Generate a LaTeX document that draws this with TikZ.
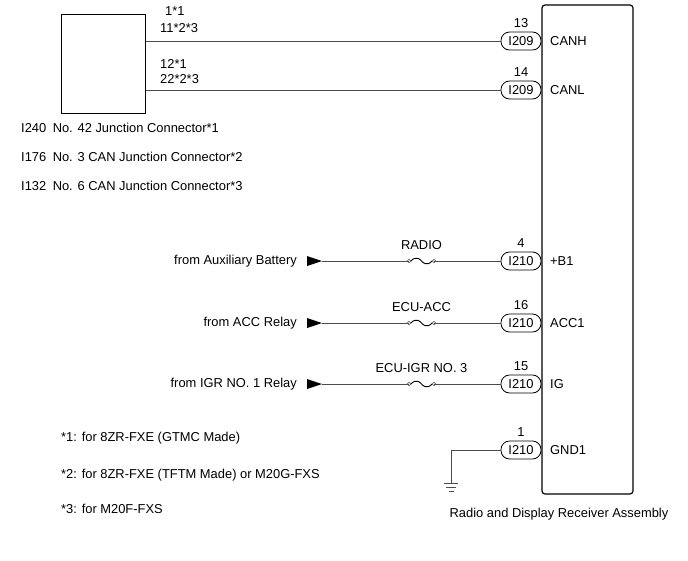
\documentclass[tikz,border=0pt]{standalone}
\usepackage{fontspec}
\setmainfont{Liberation Sans}
\usetikzlibrary{arrows.meta}
\begin{document}
\begin{tikzpicture}[x=1pt,y=-1pt,font=\fontsize{12.9}{15}\selectfont,
  conn/.style={draw,line width=0.8pt,rounded corners=8.5pt,minimum width=40pt,minimum height=18pt,inner sep=0pt,fill=white},
  wire/.style={draw=black!70,line width=0.6pt},
  lbl/.style={inner sep=1pt}]
\useasboundingbox (0,0) rectangle (688,560);
\draw[line width=1.2pt,rounded corners=3pt] (542,5) rectangle (633,494);
\node[draw,line width=1pt,minimum width=84pt,minimum height=99pt,inner sep=0pt] (jb) at (103,63.5) {};
\node[anchor=north] at (559,505) {Radio and Display Receiver Assembly};
\foreach \n/\y/\pin/\c/\sig in {a/41/13/I209/CANH, b/90/14/I209/CANL, c/261/4/I210/+B1, d/323/16/I210/ACC1, e/384/15/I210/IG, f/450/1/I210/GND1}{
  \node[conn] (o\n) at (521,\y) {\c};
  \node[lbl] at (521,\y-18) {\pin};
  \node[lbl,anchor=west] at (549,\y) {\sig};
}
\draw[wire] (jb.east |- oa) -- (oa.west);
\draw[wire] (jb.east |- ob) -- (ob.west);
\node[lbl,anchor=west] at (164,11) {1*1};
\node[lbl,anchor=west] at (159,28) {11*2*3};
\node[lbl,anchor=west] at (159,64) {12*1};
\node[lbl,anchor=west] at (159,79) {22*2*3};
\node[lbl,anchor=west] at (20,128) {I240\enspace No. 42 Junction Connector*1};
\node[lbl,anchor=west] at (20,157) {I176\enspace No. 3 CAN Junction Connector*2};
\node[lbl,anchor=west] at (20,186) {I132\enspace No. 6 CAN Junction Connector*3};
\foreach \n/\y/\txt/\fuse in {c/261/from Auxiliary Battery/RADIO, d/323/from ACC Relay/ECU-ACC, e/384/from IGR NO. 1 Relay/ECU-IGR NO. 3}{
  \coordinate (s\n) at (307,\y);
  \node[lbl,anchor=east] at (298,\y) {\txt};
  \fill (s\n) ++(0,-5) -- ++(15,5) -- ++(-15,5) -- cycle;
  \draw[wire] (322,\y) -- (409,\y);
  \draw[wire] (434,\y) -- (o\n.west);
  \draw[wire] (409,\y) circle (1.8) (434,\y) circle (1.8);
  \draw[line width=0.9pt] (411,\y) .. controls (416,\y-6) and (421,\y-1) .. (421.5,\y) .. controls (422,\y+1) and (427,\y+6) .. (432,\y);
  \node[lbl] at (421.5,\y-16) {\fuse};
}
\coordinate (g) at (451,483);
\draw[wire] (of.west) -- (451,450) -- (g);
\draw[wire] (444,483) -- (458,483) (446,487) -- (456,487) (448.5,491) -- (453.5,491);
\node[lbl,anchor=west] at (60,438) {*1: for 8ZR-FXE (GTMC Made)};
\node[lbl,anchor=west] at (60,475) {*2: for 8ZR-FXE (TFTM Made) or M20G-FXS};
\node[lbl,anchor=west] at (60,509) {*3: for M20F-FXS};
\end{tikzpicture}
\end{document}
